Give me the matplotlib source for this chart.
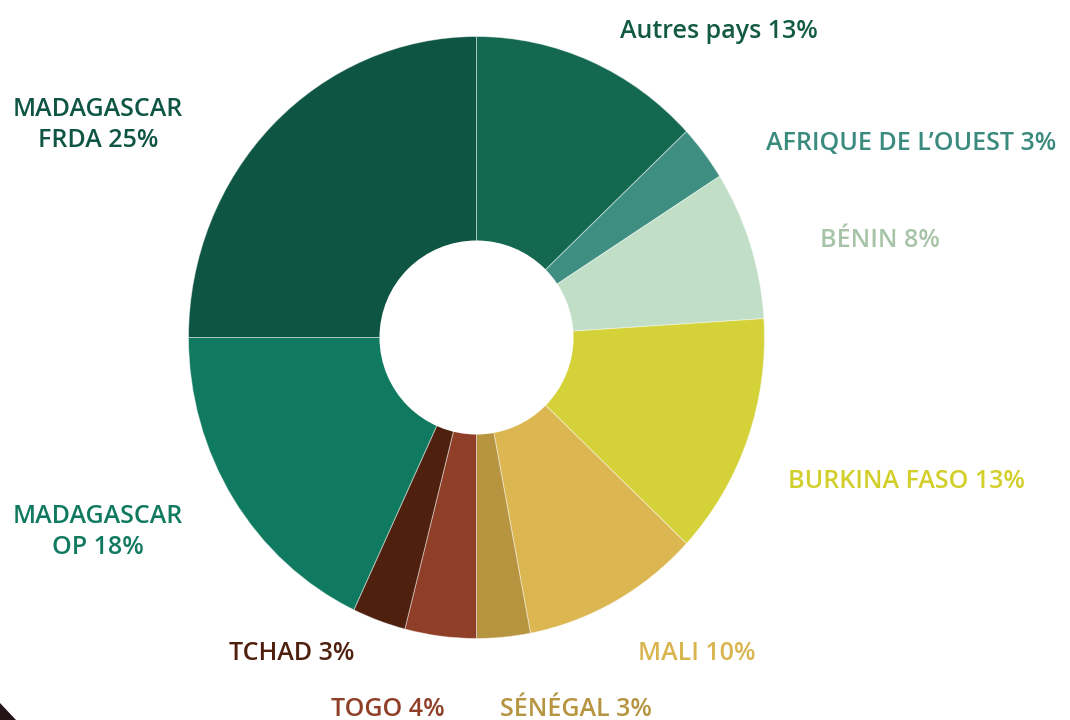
import matplotlib
matplotlib.use("Agg")
import matplotlib.pyplot as plt
from matplotlib.patches import Ellipse, Polygon

# data, clockwise from 12 o'clock
labels = ["Autres pays 13%", "AFRIQUE DE L\u2019OUEST 3%", "BÉNIN 8%",
          "BURKINA FASO 13%", "MALI 10%", "SÉNÉGAL 3%", "TOGO 4%",
          "TCHAD 3%", "MADAGASCAR\nOP 18%", "MADAGASCAR\nFRDA 25%"]
shares = [13, 3, 8, 13, 10, 3, 4, 3, 18, 25]
slice_colors = ["#146850", "#3e8e82", "#c1dfc7", "#d4d238", "#dbb651",
                "#b69440", "#8f3f27", "#4e200d", "#107a60", "#0e5543"]
text_colors = ["#135a45", "#3a8a7e", "#a8c4a8", "#d2cf2a", "#d9b550",
               "#b69440", "#8f3f27", "#4e200d", "#107a60", "#0e5543"]

# label anchor (pixel centre) for each slice
label_px = [(719, 31), (911, 143), (880, 241), (906, 482), (697, 653),
            (576, 709), (388, 709), (292, 653), (98, 532), (98, 125)]

W, H = 1070, 720
CX, CY = 476.5, 337.5       # donut centre, pixels from top-left
RX, RY = 288.0, 301.0       # outer radii, pixels
R_HOLE = 97.0

fig = plt.figure(figsize=(W / 100, H / 100), dpi=100)
ax = fig.add_axes([0, 0, 1, 1])
ax.pie(shares, colors=slice_colors, startangle=90, counterclock=False,
       radius=1.0,
       wedgeprops=dict(linewidth=0.7, edgecolor=(1, 1, 1, 0.45)))
ax.set_aspect("auto")
ax.set_xlim(-CX / RX, (W - CX) / RX)
ax.set_ylim(-(H - CY) / RY, CY / RY)
ax.add_patch(Ellipse((0, 0), 2 * R_HOLE / RX, 2 * R_HOLE / RY,
                     facecolor="white", edgecolor="none", zorder=5))
ax.axis("off")

for lab, (px, py), col in zip(labels, label_px, text_colors):
    fig.text(px / W, 1 - py / H, lab, color=col, fontsize=18,
             fontfamily="Open Sans", fontweight="semibold", ha="center",
             va="center", linespacing=1.35)

# dark corner fragment at the bottom left
fig.add_artist(Polygon([(0, 1 - 703 / H), (16 / W, 0), (0, 0)],
                       closed=True, transform=fig.transFigure,
                       facecolor="#241418", edgecolor="none"))

fig.savefig("out.png", dpi=100)
